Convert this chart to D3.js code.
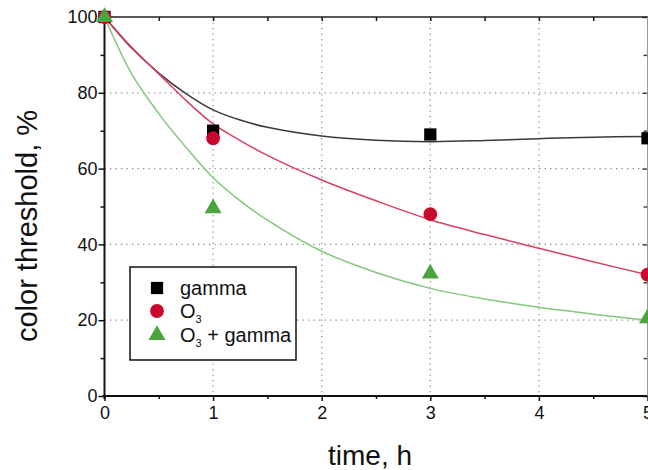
<!DOCTYPE html>
<html><head><meta charset="utf-8">
<script src="https://cdn.jsdelivr.net/npm/d3@7"></script>
<style>
html,body{margin:0;padding:0;background:#fff;}
svg{display:block;font-family:"Liberation Sans",Arial,sans-serif;}
</style></head>
<body>
<svg id="chart" width="648" height="470"></svg>
<script>
// ---- data ----
const times = [0, 1, 3, 5];
const gamma = [100, 70, 69, 68];
const ozone = [100, 68, 48, 32];
const ozoneGamma = [100, 49.5, 32.3, 20.5];

// fitted curves
const curveT = [0, 0.25, 0.5, 0.75, 1, 1.25, 1.5, 2, 2.5, 3, 3.5, 4, 4.5, 5];
const gammaFit = [100, 91.8, 85.2, 79.8, 75.5, 72.8, 70.9, 68.6, 67.5, 67.1, 67.4, 67.9, 68.3, 68.5];
const ozoneFit = [100, 92, 85, 78, 71.8, 67.4, 63.5, 57, 51.5, 46.5, 42.6, 39, 35.4, 32];
const ozoneGammaFit = [100, 85, 74.5, 65.6, 57.6, 51.5, 46.4, 38.2, 32.6, 28.4, 25.6, 23.4, 21.6, 20];

const xTicks = [0, 1, 2, 3, 4, 5];
const xMinor = [0.5, 1.5, 2.5, 3.5, 4.5];
const yTicks = [0, 20, 40, 60, 80, 100];
const yMinor = [10, 30, 50, 70, 90];

(function () {
const svg = d3.select("#chart");
const L = 104.5, R = 647.5, T = 17, B = 396;
const x = d3.scaleLinear().domain([0, 5]).range([L, R]);
const y = d3.scaleLinear().domain([0, 100]).range([B, T]);

// grid
const grid = svg.append("g").attr("stroke", "#8a8a8a").attr("stroke-width", 1.2)
  .attr("stroke-dasharray", "1.3,4.2");
grid.selectAll(".gx").data([1, 2, 3, 4]).join("line")
  .attr("x1", d => x(d)).attr("x2", d => x(d)).attr("y1", T).attr("y2", B);
grid.selectAll(".gy").data([20, 40, 60, 80]).join("line")
  .attr("x1", L).attr("x2", R).attr("y1", d => y(d)).attr("y2", d => y(d));

// axes
const fs = 18;
const axB = svg.append("g").attr("transform", `translate(0,${B})`)
  .call(d3.axisBottom(x).tickValues(xTicks).tickSize(5).tickPadding(5).tickFormat(d3.format("d")));
axB.append("g").call(d3.axisBottom(x).tickValues(xMinor).tickSize(3).tickFormat(""));
const axL = svg.append("g").attr("transform", `translate(${L},0)`)
  .call(d3.axisLeft(y).tickValues(yTicks).tickSize(6).tickPadding(1).tickFormat(d3.format("d")));
axL.append("g").call(d3.axisLeft(y).tickValues(yMinor).tickSize(4).tickFormat(""));
const axT = svg.append("g").attr("transform", `translate(0,${T})`)
  .call(d3.axisTop(x).tickValues(xTicks).tickSize(-4).tickFormat(""));
axT.append("g").call(d3.axisTop(x).tickValues(xMinor).tickSize(-4).tickFormat(""));
const axR = svg.append("g").attr("transform", `translate(${R},0)`)
  .call(d3.axisRight(y).tickValues(yTicks).tickSize(-5).tickFormat(""));
axR.append("g").call(d3.axisRight(y).tickValues(yMinor).tickSize(-4).tickFormat(""));

[axB, axL, axT, axR].forEach(g => {
  g.selectAll(".domain").remove();
  g.selectAll("line").attr("stroke", "#111").attr("stroke-width", 1.5);
  g.selectAll("text").attr("font-size", fs).attr("fill", "#111")
    .attr("font-family", "'Liberation Sans',Arial,sans-serif");
});
axR.selectAll("line").attr("stroke", "#444");

// frame lines
svg.append("line").attr("x1", L).attr("x2", L).attr("y1", T).attr("y2", B + 3)
  .attr("stroke", "#111").attr("stroke-width", 2);
svg.append("line").attr("x1", L - 2).attr("x2", 648).attr("y1", B).attr("y2", B)
  .attr("stroke", "#111").attr("stroke-width", 2);
svg.append("line").attr("x1", L).attr("x2", 648).attr("y1", T).attr("y2", T)
  .attr("stroke", "#222").attr("stroke-width", 1.5);
svg.append("line").attr("x1", R).attr("x2", R).attr("y1", T).attr("y2", B)
  .attr("stroke", "#999").attr("stroke-width", 1);

// curves
const line = d3.line().curve(d3.curveCatmullRom.alpha(0.5)).x(d => x(d[0])).y(d => y(d[1]));
const fits = [
  {vals: gammaFit, color: "#3a3a3a"},
  {vals: ozoneFit, color: "#d8405e"},
  {vals: ozoneGammaFit, color: "#82c77b"}
];
fits.forEach(f => {
  svg.append("path").datum(curveT.map((t, i) => [t, f.vals[i]]))
    .attr("d", line).attr("fill", "none").attr("stroke", f.color).attr("stroke-width", 1.5);
});

// markers
const symSquare = d3.symbol().type(d3.symbolSquare).size(150);
const symCircle = d3.symbol().type(d3.symbolCircle).size(150);
const symTri = d3.symbol().type(d3.symbolTriangle).size(125);
const series = [
  {vals: gamma, sym: symSquare, color: "#000000"},
  {vals: ozone, sym: symCircle, color: "#c8082e"},
  {vals: ozoneGamma, sym: symTri, color: "#4aa53f"}
];
series.forEach(s => {
  svg.append("g").selectAll("path").data(times.map((t, i) => [t, s.vals[i]])).join("path")
    .attr("d", s.sym)
    .attr("transform", d => `translate(${x(d[0])},${y(d[1])})`)
    .attr("fill", s.color);
});

// legend
const lg = svg.append("g");
lg.append("rect").attr("x", 130).attr("y", 267).attr("width", 166).attr("height", 93)
  .attr("fill", "#fff").attr("stroke", "#111").attr("stroke-width", 1.5);
const legendItems = [
  {sym: symSquare, color: "#000", label: "gamma", sub: false, yy: 288},
  {sym: symCircle, color: "#c8082e", label: "O", sub: true, tail: "", yy: 311},
  {sym: symTri, color: "#4aa53f", label: "O", sub: true, tail: " + gamma", yy: 335}
];
legendItems.forEach(it => {
  lg.append("path").attr("d", it.sym).attr("fill", it.color)
    .attr("transform", `translate(157,${it.yy})`);
  const t = lg.append("text").attr("x", 180).attr("y", it.yy + 7)
    .attr("font-size", 20).attr("fill", "#111");
  t.append("tspan").text(it.label);
  if (it.sub) {
    t.append("tspan").attr("font-size", 11).attr("dy", 5).text("3");
    if (it.tail) t.append("tspan").attr("dy", -5).text(it.tail);
  }
});

// axis titles
svg.append("text").attr("x", 370).attr("y", 465).attr("text-anchor", "middle")
  .attr("font-size", 28).attr("fill", "#111").text("time, h");
svg.append("text").attr("transform", "translate(37,226) rotate(-90)")
  .attr("text-anchor", "middle").attr("font-size", 29).attr("fill", "#111")
  .text("color threshold, %");
})();
</script>
</body></html>
